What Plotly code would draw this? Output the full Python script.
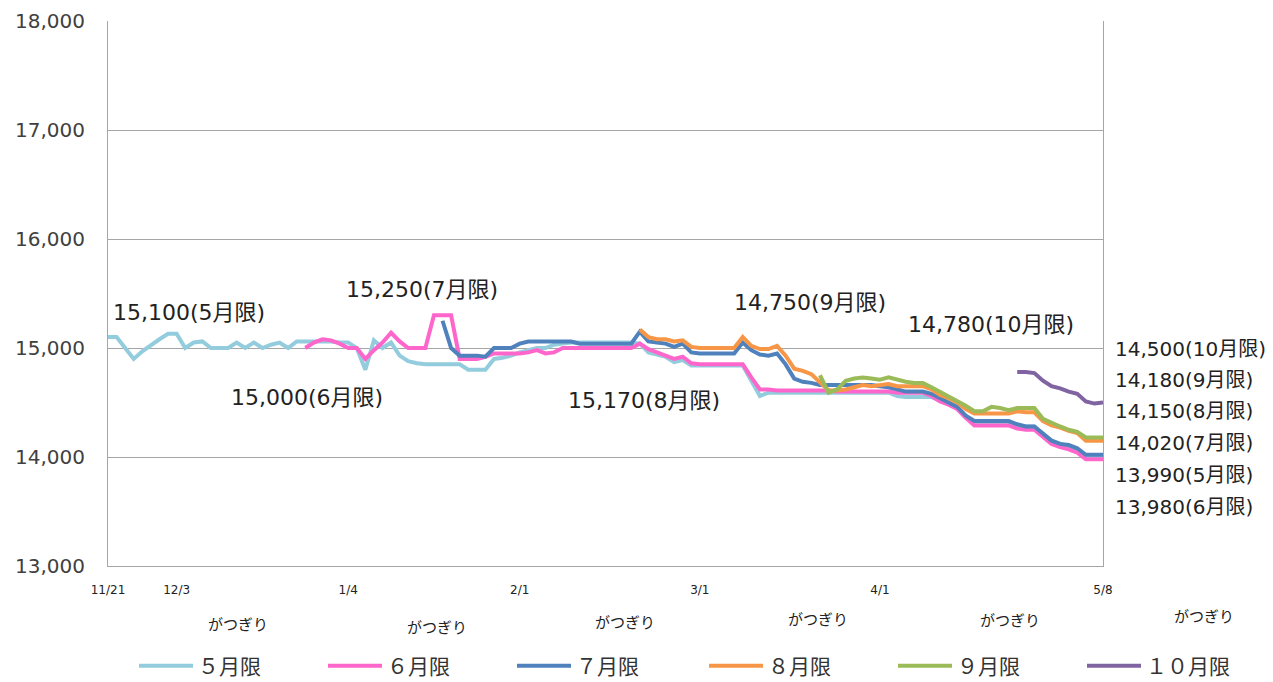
import plotly.graph_objects as go

# trading-day index on the x axis, labelled at a few dates
days = list(range(117))
tick_idx = [0, 8, 28, 48, 69, 90, 116]
tick_text = ["11/21", "12/3", "1/4", "2/1", "3/1", "4/1", "5/8"]

may = ([15100, 15100, 15000, 14900, 14970, 15030, 15080, 15130, 15130, 15000,
        15050, 15060, 15000, 15000, 15000, 15050, 15000, 15050, 15000, 15030,
        15050, 15000, 15060, 15060, 15060, 15060, 15060, 15050, 15050, 15000,
        14800, 15070, 15000, 15050, 14930, 14880, 14860, 14850, 14850, 14850,
        14850, 14850, 14800, 14800, 14800, 14900, 14910, 14930, 14960, 14980,
        15000, 15000, 15030, 15040, 15050]
       + [15050] * 7
       + [15040, 14960, 14940, 14920, 14870, 14890, 14840]
       + [14840] * 6
       + [14700, 14560, 14590]
       + [14590] * 14
       + [14560, 14550, 14550, 14550, 14550, 14520, 14490, 14450, 14370, 14300,
          14300, 14300, 14300, 14300, 14290, 14280, 14280, 14200, 14150, 14120,
          14100, 14070, 13990, 13990, 13990])

jun = ([None] * 23
       + [15000, 15050, 15080, 15070, 15040, 15000, 15000, 14900, 14980, 15050,
          15140, 15060, 15000, 15000, 15000, 15300, 15300, 15300, 14900, 14900,
          14900, 14920, 14950, 14950, 14950, 14950, 14960, 14980, 14950, 14960,
          15000]
       + [15000] * 8
       + [15040, 14990, 14960, 14930, 14900, 14920, 14860]
       + [14850] * 6
       + [14730, 14620, 14620]
       + [14610] * 7
       + [14600] * 7
       + [14590] * 4
       + [14560, 14510, 14480, 14440, 14360, 14290, 14290, 14290, 14290, 14290,
          14260, 14250, 14250, 14180, 14120, 14090, 14070, 14040, 13980, 13980,
          13980])

jul = ([None] * 39
       + [15250, 15000, 14930, 14930, 14930, 14920, 15000, 15000, 15000, 15040,
          15060, 15060, 15060, 15060, 15060, 15060]
       + [15040] * 7
       + [15150, 15060, 15050, 15040, 15010, 15040, 14960]
       + [14950] * 5
       + [15050, 14980, 14940, 14930, 14950, 14850, 14720, 14690, 14680]
       + [14660] * 7
       + [14650, 14640, 14620, 14600, 14600, 14600, 14580, 14540, 14510, 14460,
          14380, 14330, 14330, 14330, 14330, 14330, 14300, 14280, 14280, 14220,
          14150, 14120, 14110, 14080, 14020, 14020, 14020])

aug = ([None] * 62
       + [15170, 15100, 15080, 15080, 15060, 15070, 15010]
       + [15000] * 5
       + [15100, 15020, 14990, 14990, 15020, 14930, 14810, 14790, 14760, 14690,
          14610, 14610, 14620, 14640, 14660, 14650, 14660, 14670, 14650, 14650,
          14650, 14650, 14620, 14570, 14540, 14500, 14440, 14400, 14400, 14400,
          14400, 14400, 14420, 14410, 14410, 14330, 14290, 14270, 14240, 14220,
          14150, 14150, 14150])

sep = ([None] * 83
       + [14750, 14590, 14620, 14700, 14720, 14730, 14720, 14710, 14730, 14710,
          14690, 14680, 14680, 14640, 14600, 14560, 14510, 14470, 14420, 14420,
          14460, 14450, 14430, 14450, 14450, 14450, 14350, 14310, 14280, 14250,
          14230, 14180, 14180, 14180])

oct_ = ([None] * 106
        + [14780, 14780, 14770, 14700, 14650, 14630, 14600, 14580, 14510, 14490,
           14500])

series = [
    ("５月限", may, "#93CDDD", "legend"),
    ("６月限", jun, "#FF66CC", "legend"),
    ("７月限", jul, "#4F81BD", "legend"),
    ("８月限", aug, "#F79646", "legend2"),
    ("９月限", sep, "#9BBB59", "legend2"),
    ("１０月限", oct_, "#8064A2", "legend2"),
]

# value callouts (text, left px, centre y px, font size)
callouts = [
    ("15,100(5月限)", 111, 312, 22),
    ("15,250(7月限)", 344, 289, 22),
    ("15,000(6月限)", 229, 397, 22),
    ("15,170(8月限)", 566, 400, 22),
    ("14,750(9月限)", 732, 303, 22),
    ("14,780(10月限)", 906, 324, 22),
    ("14,500(10月限)", 1113, 349, 20),
    ("14,180(9月限)", 1113, 380, 20),
    ("14,150(8月限)", 1113, 411, 20),
    ("14,020(7月限)", 1113, 443, 20),
    ("13,990(5月限)", 1113, 475, 20),
    ("13,980(6月限)", 1113, 507, 20),
]
month_end = [(238, 624), (437, 626), (625, 621), (818, 618), (1010, 619), (1204, 616)]

# page pixels; the page body adds an 8px offset
OFF = 8
W, H = 1273 - OFF, 682 - OFF
L, R, T, B = 108 - OFF, 1103 - OFF, 21 - OFF, 566 - OFF


def px(x, y):
    return (x - OFF - L) / (R - L), (B - (y - OFF)) / (B - T)


fig = go.Figure()
for name, vals, color, lg in series:
    fig.add_trace(go.Scatter(
        x=days, y=vals, name=name, mode="lines",
        line=dict(color=color, width=4), connectgaps=False, legend=lg,
    ))

num = "DejaVu Sans, Noto Sans CJK JP"
jp = "Noto Sans CJK JP"
for text, x0, y0, fs in callouts:
    ax, ay = px(x0, y0)
    fig.add_annotation(text=text, x=ax, y=ay, xref="paper", yref="paper",
                       xanchor="left", yanchor="middle", showarrow=False,
                       font=dict(family=num, size=fs, color="#222222"))
for x0, y0 in month_end:
    ax, ay = px(x0, y0)
    fig.add_annotation(text="がつぎり", x=ax, y=ay, xref="paper", yref="paper",
                       xanchor="center", yanchor="middle", showarrow=False,
                       font=dict(family=jp, size=15, color="#222222"))

legend_style = dict(orientation="h", xanchor="left", yanchor="middle",
                    entrywidth=120, entrywidthmode="pixels", itemwidth=54,
                    bgcolor="rgba(0,0,0,0)",
                    font=dict(family=jp, size=21, color="#333333"))
lx1, ly = px(134, 666)
lx2, _ = px(704, 666)

fig.update_layout(
    width=W, height=H,
    margin=dict(l=L, r=W - R, t=T, b=H - B, autoexpand=False),
    paper_bgcolor="white", plot_bgcolor="white",
    legend=dict(x=lx1, y=ly, **legend_style),
    legend2=dict(x=lx2, y=ly, **legend_style),
    xaxis=dict(range=[0, 116], tickvals=tick_idx, ticktext=tick_text,
               showgrid=False, zeroline=False, showline=True, automargin=False,
               linecolor="#A6A6A6", linewidth=1, ticks="",
               ticklabelstandoff=13,
               tickfont=dict(family="DejaVu Sans", size=12, color="#222222")),
    yaxis=dict(range=[13000, 18000], dtick=1000, tickformat=",",
               showgrid=True, gridcolor="#A6A6A6", gridwidth=1, automargin=False,
               zeroline=False, showline=True, mirror=True,
               linecolor="#A6A6A6", linewidth=1, ticks="",
               ticklabelstandoff=18,
               tickfont=dict(family="DejaVu Sans", size=20, color="#404040")),
)

fig.write_html("out.html")
